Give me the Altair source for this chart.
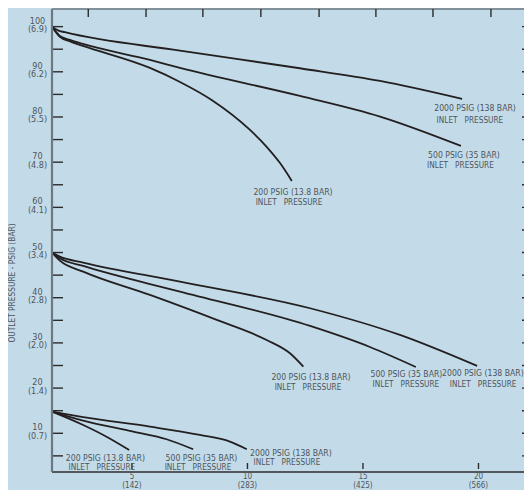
import altair as alt
import pandas as pd

# ---------------- data (flow vs outlet pressure) ----------------
c100_2000_x = [1.54, 1.80, 2.10, 7.08, 12.27, 15.74, 19.29]
c100_2000_y = [100, 99.16, 98.76, 94.69, 90.79, 87.98, 84.0]
c100_500_x = [1.54, 1.88, 2.32, 2.88, 5.78, 7.08, 12.27, 15.74, 19.24]
c100_500_y = [100, 97.94, 97.06, 96.17, 92.63, 90.86, 84.66, 80.08, 73.59]
c100_200_x = [1.54, 1.88, 2.32, 2.88, 5.78, 7.08, 8.45, 10.11, 10.83, 11.41, 11.92]
c100_200_y = [100, 97.72, 96.72, 95.73, 90.86, 87.76, 83.78, 77.14, 73.4, 69.8, 65.85]
c50_2000_x = [1.54, 1.88, 2.89, 7.08, 12.71, 16.6, 19.94]
c50_2000_y = [50, 49.09, 47.77, 43.56, 37.67, 31.76, 24.9]
c50_500_x = [1.54, 1.88, 2.89, 7.08, 12.71, 15.30, 17.29]
c50_500_y = [50, 48.74, 47.03, 41.35, 33.75, 29.1, 24.67]
c50_200_x = [1.54, 1.88, 2.89, 5.78, 8.67, 10.83, 11.84, 12.42]
c50_200_y = [50, 48.2, 45.77, 40.61, 35.08, 30.65, 27.71, 24.75]
c15_2000_x = [1.54, 2.89, 5.78, 7.94, 9.24, 9.97]
c15_2000_y = [14.8, 13.55, 11.47, 9.63, 8.15, 6.47]
c15_500_x = [1.54, 2.89, 5.06, 6.50, 7.65]
c15_500_y = [14.8, 12.79, 10.36, 8.68, 6.46]
c15_200_x = [1.54, 2.89, 3.90, 4.88]
c15_200_y = [14.8, 11.84, 9.25, 6.31]

series = {
    "100-2000": (c100_2000_x, c100_2000_y),
    "100-500": (c100_500_x, c100_500_y),
    "100-200": (c100_200_x, c100_200_y),
    "50-2000": (c50_2000_x, c50_2000_y),
    "50-500": (c50_500_x, c50_500_y),
    "50-200": (c50_200_x, c50_200_y),
    "15-2000": (c15_2000_x, c15_2000_y),
    "15-500": (c15_500_x, c15_500_y),
    "15-200": (c15_200_x, c15_200_y),
}

# curve annotations (label line 1, label line 2, anchor in data units)
lab1_text = ["2000 PSIG (138 BAR)", "500 PSIG (35 BAR)", "200 PSIG (13.8 BAR)",
             "200 PSIG (13.8 BAR)", "500 PSIG (35 BAR)", "2000 PSIG (138 BAR)",
             "200 PSIG (13.8 BAR)", "500 PSIG (35 BAR)", "2000 PSIG (138 BAR)"]
lab1_x = [19.85, 19.37, 11.97, 12.75, 16.88, 20.19, 3.85, 8.01, 11.88]
lab1_y = [82.0, 71.6, 63.41, 22.46, 23.13, 23.35, 4.54, 4.54, 5.65]
lab2_x = [19.63, 19.22, 11.80, 12.62, 16.86, 20.20, 3.70, 7.86, 11.71]
lab2_y = [79.13, 69.2, 60.98, 20.03, 20.69, 20.69, 2.33, 2.33, 3.43]
lab2_word = "INLET\u00a0\u00a0\u00a0PRESSURE"

# axis ticks / labels
y_label_vals = [100, 90, 80, 70, 60, 50, 40, 30, 20, 10]
y_label_bar = ["(6.9)", "(6.2)", "(5.5)", "(4.8)", "(4.1)", "(3.4)", "(2.8)", "(2.0)", "(1.4)", "(0.7)"]
y_tick_vals = [5 * k for k in range(1, 21)]
x_label_vals = [5, 10, 15, 20]
x_label_scfm = ["(142)", "(283)", "(425)", "(566)"]
x_top_ticks = [3.11, 5.61, 8.07, 10.58, 13.10, 15.56, 18.03, 20.54]
y_title = "OUTLET PRESSURE - PSIG (BAR)"

# ---------------- build ----------------
W, H = 472, 463
FONT = "DejaVu Sans Condensed, Liberation Sans Narrow, sans-serif"
TXT = "#4e555c"
INK = "#231f20"
TICK = "#2b2b2b"

xs = alt.Scale(domain=[1.54, 21.97], nice=False, zero=False)
ys = alt.Scale(domain=[1.43, 103.9], nice=False, zero=False)


def X(f):
    return alt.X(f, scale=xs, axis=None)


def Y(f):
    return alt.Y(f, scale=ys, axis=None)


rows = []
for name, (xx, yy) in series.items():
    for i, (a, b) in enumerate(zip(xx, yy)):
        rows.append({"series": name, "i": i, "x": a, "y": b})
curve_df = pd.DataFrame(rows)

curves = alt.Chart(curve_df).mark_line(
    color=INK, strokeWidth=1.8, interpolate="monotone"
).encode(x=X("x:Q"), y=Y("y:Q"), detail="series:N", order="i:Q")

l1_df = pd.DataFrame({"x": lab1_x, "y": lab1_y, "t": lab1_text})
l2_df = pd.DataFrame({"x": lab2_x, "y": lab2_y, "t": [lab2_word] * len(lab2_x)})
lab1 = alt.Chart(l1_df).mark_text(font=FONT, fontSize=8.6, color=TXT, align="center", baseline="middle").encode(
    x=X("x:Q"), y=Y("y:Q"), text="t:N")
lab2 = alt.Chart(l2_df).mark_text(font=FONT, fontSize=8.2, color=TXT, align="center", baseline="middle").encode(
    x=X("x:Q"), y=Y("y:Q"), text="t:N")

one = pd.DataFrame({"a": [0]})
frame_left = alt.Chart(one).mark_rule(color="#6c7780", strokeWidth=2.2).encode(
    x=alt.value(0), y=alt.value(0), y2=alt.value(H))
frame_top = alt.Chart(one).mark_rule(color="#6c7780", strokeWidth=1.6).encode(
    x=alt.value(0), x2=alt.value(W), y=alt.value(0))
frame_bottom = alt.Chart(one).mark_rule(color=TICK, strokeWidth=1.6).encode(
    x=alt.value(0), x2=alt.value(W), y=alt.value(H))

yt_df = pd.DataFrame({"v": y_tick_vals})
left_ticks = alt.Chart(yt_df).mark_rule(color=TICK, strokeWidth=1.4).encode(
    y=Y("v:Q"), x=alt.value(0), x2=alt.value(11))
right_ticks = alt.Chart(yt_df).mark_rule(color=TICK, strokeWidth=1.4).encode(
    y=Y("v:Q"), x=alt.value(W - 2), x2=alt.value(W))

top_df = pd.DataFrame({"v": x_top_ticks})
top_ticks = alt.Chart(top_df).mark_rule(color=TICK, strokeWidth=1.4).encode(
    x=X("v:Q"), y=alt.value(0), y2=alt.value(8))

xl_df = pd.DataFrame({"v": x_label_vals, "a": [str(v) for v in x_label_vals], "b": x_label_scfm})
bottom_ticks = alt.Chart(xl_df).mark_rule(color=TICK, strokeWidth=1.4).encode(
    x=X("v:Q"), y=alt.value(H - 9), y2=alt.value(H - 3))
xlab_a = alt.Chart(xl_df).mark_text(font=FONT, fontSize=8, color=TXT, align="center", baseline="middle").encode(
    x=X("v:Q"), y=alt.value(H + 4.5), text="a:N")
xlab_b = alt.Chart(xl_df).mark_text(font=FONT, fontSize=8, color=TXT, align="center", baseline="middle").encode(
    x=X("v:Q"), y=alt.value(H + 13.5), text="b:N")

yl_df = pd.DataFrame({"v": y_label_vals, "a": [str(v) for v in y_label_vals], "b": y_label_bar})
ylab_a = alt.Chart(yl_df).mark_text(font=FONT, fontSize=9, color=TXT, align="center", baseline="middle", dy=-6).encode(
    y=Y("v:Q"), x=alt.value(-14.5), text="a:N")
ylab_b = alt.Chart(yl_df).mark_text(font=FONT, fontSize=9, color=TXT, align="center", baseline="middle", dy=2.5).encode(
    y=Y("v:Q"), x=alt.value(-14.5), text="b:N")

ytitle = alt.Chart(pd.DataFrame({"t": [y_title]})).mark_text(
    font=FONT, fontSize=8.3, color=TXT, align="center", baseline="middle", angle=270
).encode(x=alt.value(-39), y=alt.value(274), text="t:N")

chart = alt.layer(
    frame_top, frame_bottom, left_ticks, right_ticks, top_ticks, bottom_ticks,
    curves, lab1, lab2, xlab_a, xlab_b, ylab_a, ylab_b, ytitle, frame_left,
).properties(
    width=W, height=H,
    autosize=alt.AutoSizeParams(type="none"),
    padding={"left": 44, "top": 1, "right": 0, "bottom": 18},
).configure(
    background="#c3dbe8",
).configure_view(stroke=None)

chart.save("out.html", embed_options={"renderer": "svg", "actions": False})
